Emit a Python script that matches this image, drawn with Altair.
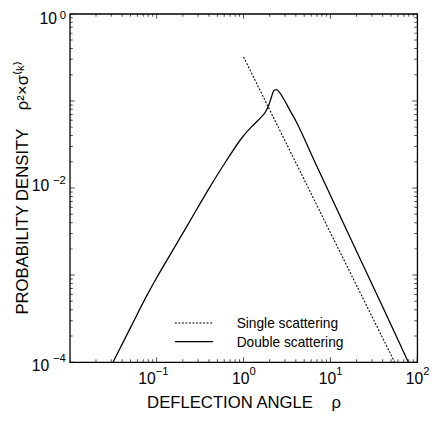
import altair as alt
import pandas as pd

FONT = "Liberation Sans"
W, H = 354, 355

# ---- data ----
double_rho = [0.03141, 0.05012, 0.07943, 0.1, 0.1585, 0.2512, 0.3981, 0.6310, 1.0,
              1.259, 1.585, 1.778, 1.950, 2.089, 2.239, 2.399, 2.630, 2.951, 3.388,
              4.046, 6.310, 15.85, 39.81, 79.07]
double_dens = [1.0e-4, 2.512e-4, 6.166e-4, 9.33e-4, 2.042e-3, 4.467e-3, 9.772e-3,
               0.02042, 0.03981, 0.05129, 0.06457, 0.07413, 0.08913, 0.1096, 0.1318,
               0.1349, 0.1230, 0.1023, 0.07943, 0.05768, 0.02213, 3.09e-3, 4.365e-4, 1.0e-4]
single_rho = [1.0, 10.0, 55.0]
single_dens = [0.32, 0.00307, 1.0e-4]
series_names = ["Single scattering", "Double scattering"]

x_major = [0.01, 0.1, 1, 10, 100]
y_major = [1e-4, 1e-3, 1e-2, 1e-1, 1]
minor_mult = [2, 3, 4, 5, 6, 7, 8, 9]
x_label_vals = [0.1, 1, 10, 100]
x_label_exps = ["\u22121", "0", "1", "2"]
y_label_vals = [1e-4, 1e-2, 1]
y_label_exps = ["\u22124", "\u22122", "0"]

x_minor = [m * d for d in x_major[:-1] for m in minor_mult]
y_minor = [m * d for d in y_major[:-1] for m in minor_mult]

xs = alt.Scale(type="log", domain=[0.01, 100], nice=False)
ys = alt.Scale(type="log", domain=[1e-4, 1], nice=False)

df_double = pd.DataFrame({"rho": double_rho, "dens": double_dens})
df_single = pd.DataFrame({"rho": single_rho, "dens": single_dens})

single = alt.Chart(df_single).mark_line(
    clip=True, color="black", strokeWidth=1.1, strokeDash=[2, 1.6]
).encode(
    x=alt.X("rho:Q", scale=xs, title="DEFLECTION ANGLE\u00a0\u00a0\u00a0\u00a0\u03c1",
            axis=alt.Axis(titleY=46, titleBaseline="alphabetic")),
    y=alt.Y("dens:Q", scale=ys,
            title="PROBABILITY DENSITY\u00a0\u00a0\u00a0\u00a0\u03c1\u00b2\u00d7\u03c3\u207d\u1d4f\u207e",
            axis=alt.Axis(titleX=-43, titleY=177, titleAngle=270,
                          titleBaseline="alphabetic", titleAlign="center")),
)

double = alt.Chart(df_double).mark_line(
    clip=True, color="black", strokeWidth=1.3, interpolate="monotone"
).encode(
    x=alt.X("rho:Q", scale=xs),
    y=alt.Y("dens:Q", scale=ys),
)

# inward ticks on all four sides
tx = pd.DataFrame({"v": x_major + x_minor,
                   "len": [10] * len(x_major) + [6] * len(x_minor)})
ty = pd.DataFrame({"v": y_major + y_minor,
                   "len": [10] * len(y_major) + [6] * len(y_minor)})

def xticks(ypix):
    return alt.Chart(tx).mark_tick(clip=True, orient="vertical", thickness=1,
                                   color="black").encode(
        x=alt.X("v:Q", scale=xs), y=alt.value(ypix),
        size=alt.Size("len:Q", scale=None, legend=None))

def yticks(xpix):
    return alt.Chart(ty).mark_tick(clip=True, orient="horizontal", thickness=1,
                                   color="black").encode(
        y=alt.Y("v:Q", scale=ys), x=alt.value(xpix),
        size=alt.Size("len:Q", scale=None, legend=None))

# tick labels "10" + exponent
xl = pd.DataFrame({"v": x_label_vals, "e": x_label_exps})
yl = pd.DataFrame({"v": y_label_vals, "e": y_label_exps})

def xlab(narrow):
    f = "length(datum.e) == 1" if narrow else "length(datum.e) > 1"
    j = 6 if narrow else -1
    base = alt.Chart(xl).transform_filter(f).mark_text(
        text="10", align="right", baseline="alphabetic", dx=j, dy=22,
        font=FONT, fontSize=16, color="black").encode(
        x=alt.X("v:Q", scale=xs), y=alt.value(H))
    ex = alt.Chart(xl).transform_filter(f).mark_text(
        align="left", baseline="alphabetic", dx=j, dy=13,
        font=FONT, fontSize=11.5, color="black").encode(
        x=alt.X("v:Q", scale=xs), y=alt.value(H), text="e:N")
    return [base, ex]

def ylab(exp, j, bdy, edy):
    f = "datum.e == '%s'" % exp
    base = alt.Chart(yl).transform_filter(f).mark_text(
        text="10", align="right", baseline="middle", dx=j, dy=bdy,
        font=FONT, fontSize=16, color="black").encode(
        y=alt.Y("v:Q", scale=ys), x=alt.value(0))
    ex = alt.Chart(yl).transform_filter(f).mark_text(
        align="right", baseline="middle", dx=-4, dy=edy,
        font=FONT, fontSize=11.5, color="black").encode(
        y=alt.Y("v:Q", scale=ys), x=alt.value(0), text="e:N")
    return [base, ex]

# legend drawn inside the plot
leg_single = pd.DataFrame({"name": [series_names[0]]})
leg_double = pd.DataFrame({"name": [series_names[1]]})
leg = [
    alt.Chart(leg_single).mark_rule(color="black", strokeWidth=1.1, strokeDash=[2, 1.6]).encode(
        x=alt.value(107), x2=alt.value(146), y=alt.value(315)),
    alt.Chart(leg_double).mark_rule(color="black", strokeWidth=1.3).encode(
        x=alt.value(107), x2=alt.value(146), y=alt.value(334)),
    alt.Chart(leg_single).mark_text(align="left", baseline="alphabetic", font=FONT,
                                    fontSize=14, color="black").encode(
        x=alt.value(170), y=alt.value(320), text="name:N"),
    alt.Chart(leg_double).mark_text(align="left", baseline="alphabetic", font=FONT,
                                    fontSize=14, color="black").encode(
        x=alt.value(170), y=alt.value(340), text="name:N"),
]

layers = [single, double, xticks(H), xticks(0), yticks(0), yticks(W)]
layers += xlab(True) + xlab(False)
layers += ylab(y_label_exps[2], -13, 5, 2)
layers += ylab(y_label_exps[1], -21, -2, -7)
layers += ylab(y_label_exps[0], -21, 4, -3)
layers += leg

chart = alt.layer(*layers).properties(
    width=W, height=H,
    autosize=alt.AutoSizeParams(type="none"),
    padding={"left": 63, "top": 2, "right": 13, "bottom": 56},
    background="white",
).configure_axis(
    labels=False, ticks=False, domain=False, grid=False,
    titleFont=FONT, titleFontSize=17, titleFontWeight="normal", titleColor="black",
).configure_view(stroke="black", strokeWidth=1.3)

chart.save("out.html", embed_options={"renderer": "svg", "actions": False})
